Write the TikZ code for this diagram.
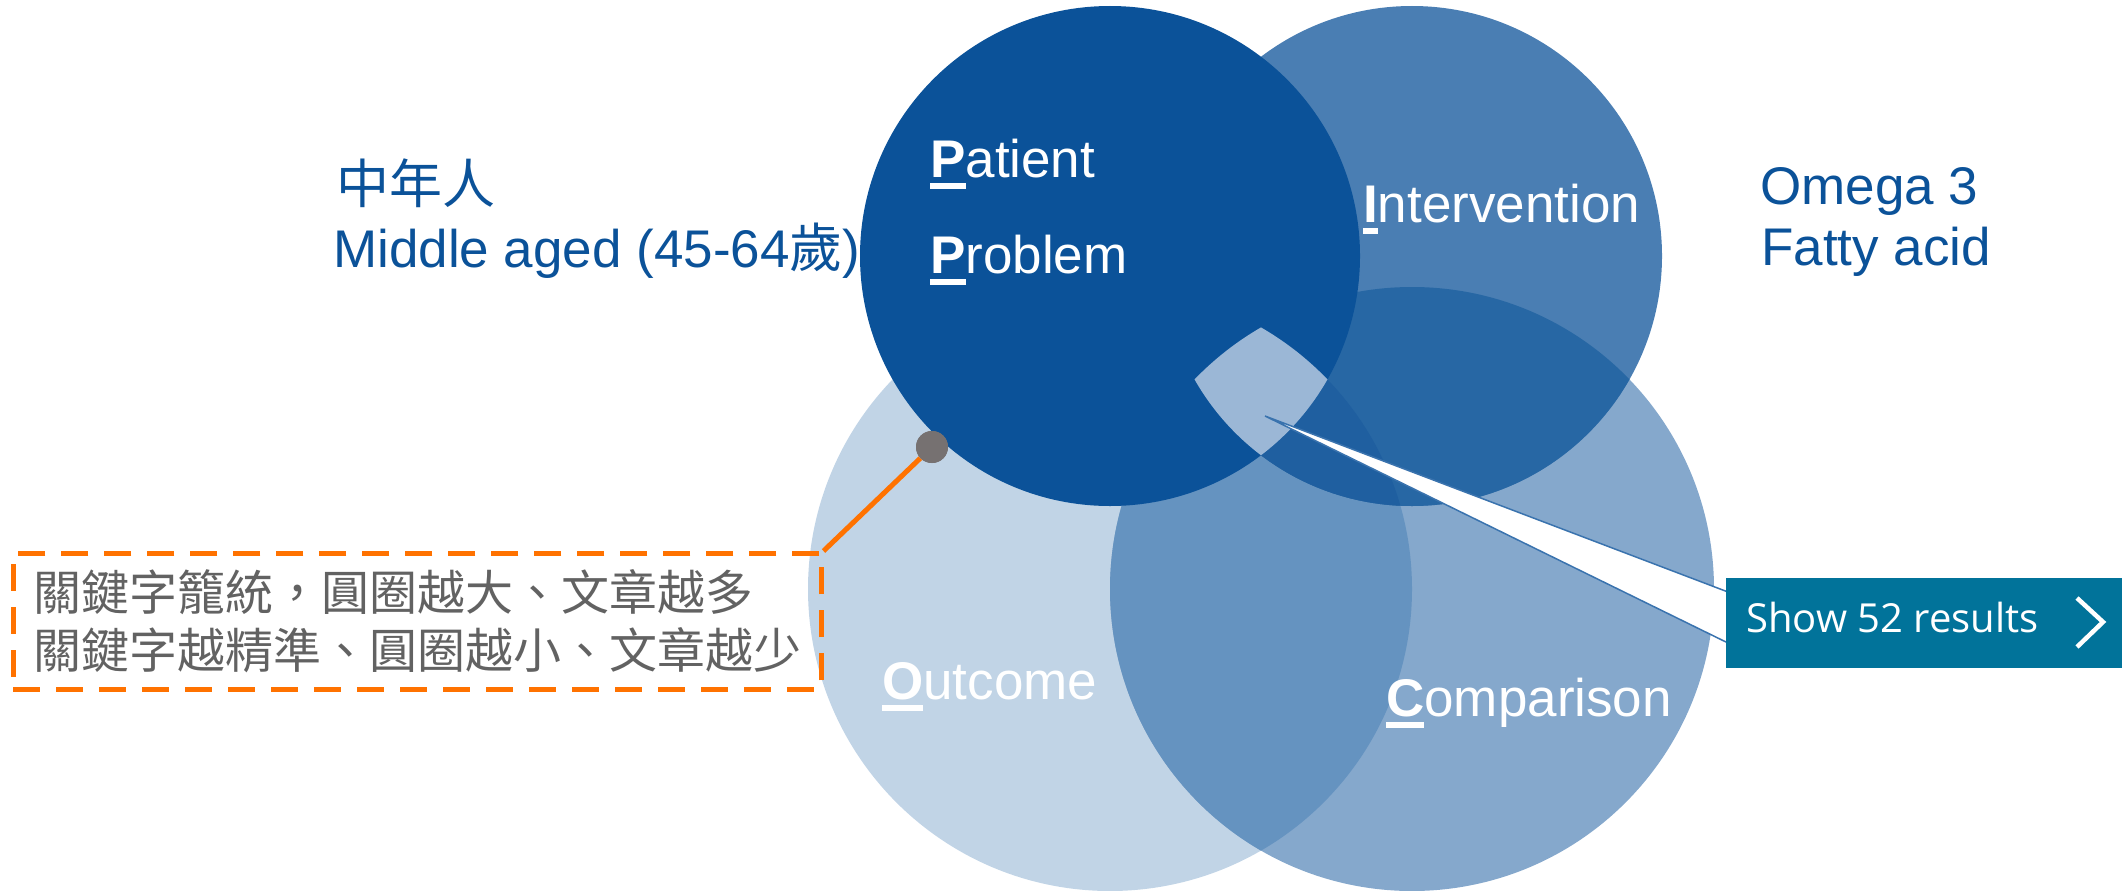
\documentclass[tikz,border=0pt]{standalone}
\usepackage{fontspec}
\setmainfont{Liberation Sans}
\newfontfamily\cjk{Noto Sans CJK TC}
\newfontfamily\btnfont{Open Sans}
\definecolor{cP}{HTML}{0B5299}
\definecolor{cI}{HTML}{4A7EB3}
\definecolor{cO}{HTML}{C1D4E6}
\definecolor{cC}{HTML}{85A8CC}
\definecolor{cOC}{HTML}{6593C0}
\definecolor{cIC}{HTML}{2767A4}
\definecolor{cIOC}{HTML}{1F5FA0}
\definecolor{cD}{HTML}{9BB7D6}
\definecolor{wedgeblue}{HTML}{3A73AE}
\definecolor{btnteal}{HTML}{01739A}
\definecolor{orangeline}{HTML}{FF7200}
\definecolor{dotgrey}{HTML}{767171}
\definecolor{boxtext}{HTML}{626262}
\newcommand\ULfirst[1]{\setbox0\hbox{\bfseries #1}\rlap{\rule[-12pt]{\wd0}{6pt}}\box0}
\tikzset{
  lbl/.style={text=white, font=\fontsize{53}{64}\selectfont, inner sep=0pt, anchor=base west},
  bluelbl/.style={text=cP, font=\fontsize{53}{64}\selectfont, inner sep=0pt, anchor=base west},
}
\begin{document}
\begin{tikzpicture}[x=1pt,y=-1pt]
\useasboundingbox (0,0) rectangle (2123,891);
\coordinate (Pc) at (1110,256);
\coordinate (Ic) at (1412,256);
\coordinate (Oc) at (1110,589);
\coordinate (Cc) at (1412,589);
% outcome and comparison
\fill[cO] (Oc) circle[radius=302pt];
\fill[cC] (Cc) circle[radius=302pt];
\begin{scope}
  \clip (Oc) circle[radius=302pt];
  \fill[cOC] (Cc) circle[radius=302pt];
\end{scope}
% intervention
\fill[cI] (Ic) circle[radius=250pt];
\begin{scope}
  \clip (Ic) circle[radius=250pt];
  \fill[cIC] (Cc) circle[radius=302pt];
\end{scope}
\begin{scope}
  \clip (Ic) circle[radius=250pt];
  \clip (Oc) circle[radius=302pt];
  \fill[cIOC] (Cc) circle[radius=302pt];
\end{scope}
% patient
\fill[cP] (Pc) circle[radius=250pt];
\begin{scope}
  \clip (Pc) circle[radius=250pt];
  \clip (Ic) circle[radius=250pt];
  \clip (Oc) circle[radius=302pt];
  \fill[cD] (Cc) circle[radius=302pt];
\end{scope}
% labels in circles
\node[lbl] (patient) at (930,177) {\ULfirst{P}atient};
\node[lbl] (problem) at (930,273) {\ULfirst{P}roblem};
\node[lbl] (interv) at (1363,222) {\ULfirst{I}ntervention};
\node[lbl] (outcome) at (882,699) {\ULfirst{O}utcome};
\node[lbl] (compar) at (1386,716) {\ULfirst{C}omparison};
% outside labels
\node[bluelbl] (zh) at (336,203) {\cjk 中年人};
\node[bluelbl] (mid) at (333,267) {Middle aged (45-64{\cjk 歲})};
\node[bluelbl] (omega) at (1760,204) {Omega 3};
\node[bluelbl] (fatty) at (1761,265) {Fatty acid};
% wedge callout to button
\coordinate (tip) at (1265,416);
\coordinate (w1) at (1728,592);
\coordinate (w2) at (1728,643);
\filldraw[fill=white, draw=wedgeblue, line width=1.5pt, line join=miter] (tip) -- (w1) -- (w2) -- cycle;
\node[fill=btnteal, minimum width=396pt, minimum height=90pt, inner sep=0pt, anchor=north west] (btn) at (1726,578) {};
\node[text=white, font=\btnfont\fontsize{40}{48}\selectfont, inner sep=0pt, anchor=base west] (btntext) at (1746,632) {Show 52 results};
\coordinate (ch1) at (2077,598);
\coordinate (ch2) at (2103,622);
\coordinate (ch3) at (2077,647);
\draw[white, line width=4.5pt, line join=miter] (ch1) -- (ch2) -- (ch3);
% dashed note box
\node[draw=orangeline, line width=4.5pt, dash pattern=on 27pt off 16pt,
      text=boxtext, font=\cjk\fontsize{48}{58}\selectfont, align=left,
      inner xsep=0pt, inner ysep=0pt, minimum width=808pt, minimum height=136pt,
      anchor=north west] (note) at (11,551)
  {關鍵字籠統，圓圈越大、文章越多\\關鍵字越精準、圓圈越小、文章越少};
\node[circle, fill=dotgrey, minimum size=32pt, inner sep=0pt] (dot) at (932,447) {};
\draw[orangeline, line width=5pt] (note.north east) -- (dot);
\fill[dotgrey] (dot) circle[radius=16pt];
\end{tikzpicture}
\end{document}
